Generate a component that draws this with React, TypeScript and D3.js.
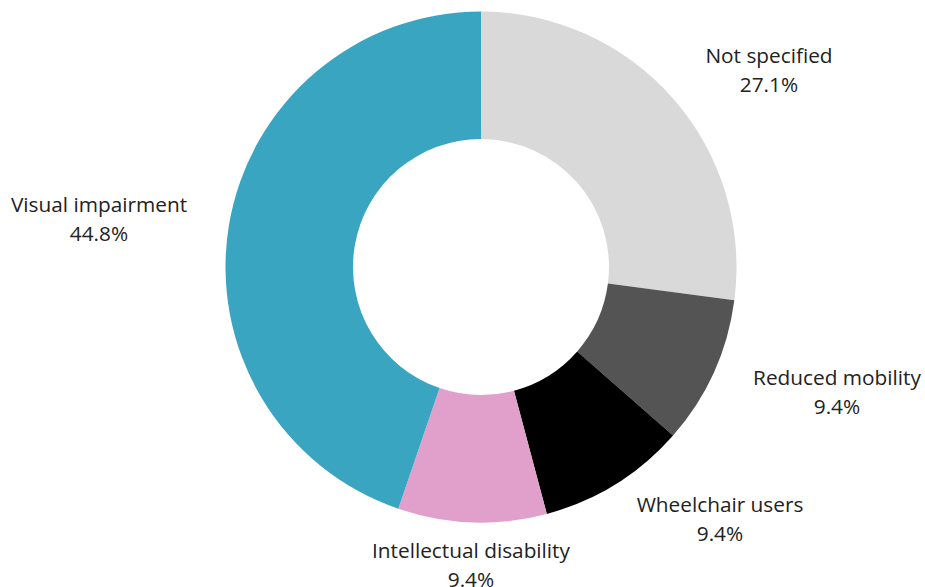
import React from "react";
import * as d3 from "d3";

const categories = ["Not specified", "Reduced mobility", "Wheelchair users", "Intellectual disability", "Visual impairment"];
const values = [27.1, 9.4, 9.4, 9.4, 44.8];
const colors = ["#D9D9D9", "#545454", "#000000", "#E0A0CB", "#3AA5C1"];
// label anchor (center of first line baseline) layout
const labelPos: [number, number][] = [
  [769, 63],
  [837, 385],
  [720, 512],
  [471, 558],
  [99, 212],
];

export default function App() {
  const W = 925, H = 587;
  const cx = 481, cy = 267, R = 255.5, r = 128;
  const pie = d3.pie<number>().sort(null).value((d) => d);
  const arcs = pie(values);
  const arc = d3.arc<d3.PieArcDatum<number>>().innerRadius(r).outerRadius(R);
  return (
    <svg width={W} height={H} style={{ position: "absolute", left: 0, top: 0 }}>
      <rect width={W} height={H} fill="#fff" />
      <g transform={`translate(${cx},${cy})`}>
        {arcs.map((a, i) => (
          <path key={i} d={arc(a) || ""} fill={colors[i]} />
        ))}
      </g>
      {categories.map((c, i) => (
        <text key={c} x={labelPos[i][0]} y={labelPos[i][1]} textAnchor="middle"
          fontFamily="'Open Sans', sans-serif" fontSize={20.8} fill="#222">
          <tspan x={labelPos[i][0]}>{c}</tspan>
          <tspan x={labelPos[i][0]} dy={29}>{values[i].toFixed(1)}%</tspan>
        </text>
      ))}
    </svg>
  );
}
